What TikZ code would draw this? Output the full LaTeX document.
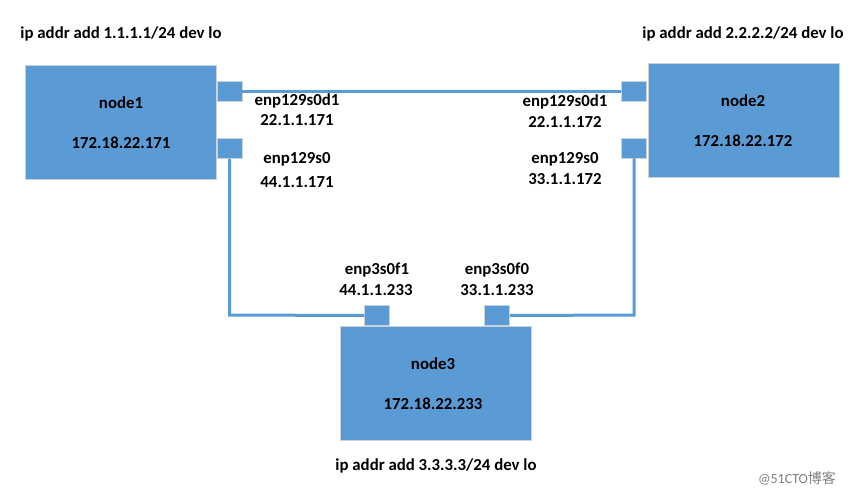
\documentclass[tikz,border=0pt]{standalone}
\usepackage{fontspec}
\setmainfont{Carlito}
\newfontfamily\cjk{Noto Sans CJK SC}
\definecolor{boxblue}{HTML}{5B9BD5}
\definecolor{edgegray}{HTML}{C9D3DC}
\begin{document}
\begin{tikzpicture}[x=1pt,y=-1pt,
  hostbox/.style={draw=edgegray,line width=0.8pt,fill=boxblue,minimum width=191pt,minimum height=114pt,inner sep=0pt,anchor=center},
  portbox/.style={fill=boxblue,draw=edgegray,line width=0.5pt,minimum width=25pt,minimum height=20pt,inner sep=0pt},
  link/.style={draw=boxblue,line width=3pt},
  lbl/.style={font=\bfseries\fontsize{16.8}{18}\selectfont,text=black,inner sep=0pt,align=center}]
\useasboundingbox (0,0) rectangle (865,496);
% hosts
\node[hostbox] (n1) at (120.5,122) {};
\node[hostbox] (n2) at (743.5,120.5) {};
\node[hostbox] (n3) at (435.5,383) {};
% ports
\node[portbox] (p1a) at (229.5,91) {};
\node[portbox] (p1b) at (229.5,148.5) {};
\node[portbox] (p2a) at (634,91) {};
\node[portbox] (p2b) at (634,148) {};
\node[portbox] (p3a) at (377,315.5) {};
\node[portbox] (p3b) at (497,315.5) {};
% links
\coordinate (c1) at (229.5,315);
\coordinate (c2) at (634,315);
\draw[link] (p1a.east) -- (p2a.west);
\draw[link] (p1b.south) -- (c1) -- (p3a.west);
\draw[link] (p2b.south) -- (c2) -- (p3b.east);
% texts
\node[lbl] (t1) at (121,34) {ip addr add 1.1.1.1/24 dev lo};
\node[lbl] (t2) at (743,34) {ip addr add 2.2.2.2/24 dev lo};
\node[lbl] (t3) at (436,466) {ip addr add 3.3.3.3/24 dev lo};
\node[lbl] (n1a) at (121,103) {node1};
\node[lbl] (n1b) at (121,143) {172.18.22.171};
\node[lbl] (n2a) at (743,101) {node2};
\node[lbl] (n2b) at (743,141) {172.18.22.172};
\node[lbl] (n3a) at (433,364) {node3};
\node[lbl] (n3b) at (433,404) {172.18.22.233};
\node[lbl] (l1a) at (297,101) {enp129s0d1};
\node[lbl] (l1a2) at (297,120) {22.1.1.171};
\node[lbl] (l1b) at (297,159) {enp129s0};
\node[lbl] (l1b2) at (297,182) {44.1.1.171};
\node[lbl] (l2a) at (565,102) {enp129s0d1};
\node[lbl] (l2a2) at (565,122) {22.1.1.172};
\node[lbl] (l2b) at (565,159) {enp129s0};
\node[lbl] (l2b2) at (565,179) {33.1.1.172};
\node[lbl] (l3a) at (377,270) {enp3s0f1};
\node[lbl] (l3a2) at (376,290) {44.1.1.233};
\node[lbl] (l3b) at (497,270) {enp3s0f0};
\node[lbl] (l3b2) at (497,290) {33.1.1.233};
\node[font=\fontsize{14}{16}\selectfont,text=gray,inner sep=0pt] (wm) at (797,478) {@51CTO{\cjk 博客}};
\end{tikzpicture}
\end{document}
